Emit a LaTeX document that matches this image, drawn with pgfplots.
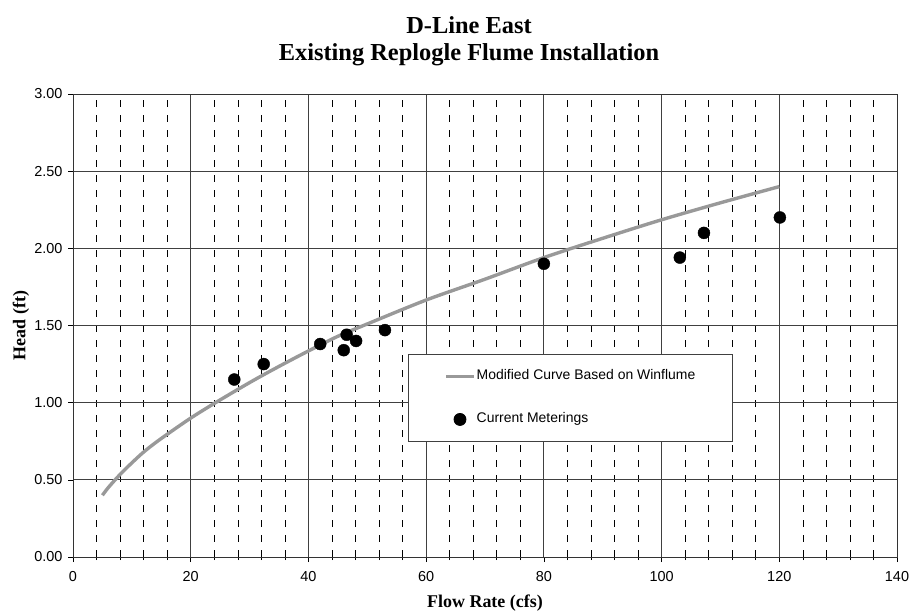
\documentclass[border=0pt]{standalone}
\usepackage{pgfplots}
\pgfplotsset{compat=1.18}
\usepackage{pgfplotstable}
\usepackage{fontspec}
\setmainfont{Liberation Serif}
\newfontfamily\arial{Liberation Sans}

% modified curve (Winflume)
\pgfplotstableread{
Q H
5 0.40
6 0.45
8 0.535
10 0.61
12 0.68
14 0.74
16 0.795
20 0.90
24 0.995
30 1.13
35 1.235
40 1.335
45 1.43
50 1.51
60 1.665
70 1.80
80 1.94
90 2.065
100 2.185
110 2.295
120 2.40
}\curve

% current meterings
\pgfplotstableread{
Q H
27.4 1.15
32.4 1.25
42.0 1.38
46.0 1.34
46.5 1.44
48.1 1.40
53.0 1.47
80.0 1.90
103.1 1.94
107.2 2.10
120.1 2.20
}\meter

\begin{document}
\begin{tikzpicture}
\useasboundingbox (-73bp,-59bp) rectangle (836bp,557bp);
\begin{axis}[
  at={(0,0)}, anchor=south west,
  scale only axis,
  width=824bp, height=463bp,
  xmin=0, xmax=140, ymin=0, ymax=3,
  xtick={0,20,...,140},
  ytick={0,0.5,...,3},
  minor x tick num=4,
  minor y tick num=0,
  xmajorgrids, xminorgrids, ymajorgrids,
  major grid style={draw=black!75, line width=0.8bp},
  minor grid style={draw=black, line width=0.6bp, dash pattern=on 7bp off 8bp},
  axis line style={draw=black!80, line width=0.8bp},
  tick align=outside, tick pos=left,
  major tick length=5bp, minor tick length=3bp,
  tick style={black, line width=0.6bp},
  /pgf/number format/assume math mode=true,
  ticklabel style={font=\arial\fontsize{14.5}{16}\selectfont},
  yticklabel style={/pgf/number format/.cd, fixed, fixed zerofill, precision=2,
    /tikz/.cd, xshift=-2bp},
  xticklabel style={/pgf/number format/.cd, fixed, precision=0,
    /tikz/.cd, yshift=-6bp},
  title={D-Line East\\Existing Replogle Flume Installation},
  title style={font=\bfseries\fontsize{24.5}{27}\selectfont, align=center,
    at={(axis description cs:0.5,1)}, anchor=south, yshift=19bp, xshift=-16bp},
  xlabel={Flow Rate (cfs)},
  xlabel style={font=\bfseries\fontsize{18}{20}\selectfont,
    at={(axis description cs:0.5,0)}, anchor=center, yshift=-46bp},
  ylabel={Head (ft)},
  ylabel style={font=\bfseries\fontsize{18}{20}\selectfont,
    at={(axis description cs:0,0.5)}, anchor=center, yshift=52bp},
  legend cell align=left,
  legend style={at={(axis cs:56.9,1.315)}, anchor=north west,
    draw=black!75, line width=0.8bp, fill=white,
    inner xsep=36bp, inner ysep=14.5bp, row sep=28bp, column sep=0bp,
    font=\arial\fontsize{14}{16}\selectfont,
    nodes={inner sep=1bp, text height=10bp, text depth=3bp}},
  legend image code/.code={
    \draw[mark repeat=2, mark phase=2, #1]
      plot coordinates {(0bp,0bp) (14bp,0bp) (28bp,0bp)};},
]
\addplot[draw=black!40, line width=3.4bp, smooth, no marks] table[x=Q, y=H] {\curve};
\addlegendentry{Modified Curve Based on Winflume}
\addplot[only marks, mark=*, mark size=6bp, black] table[x=Q, y=H] {\meter};
\addlegendentry{Current Meterings}
\end{axis}
\end{tikzpicture}
\end{document}
